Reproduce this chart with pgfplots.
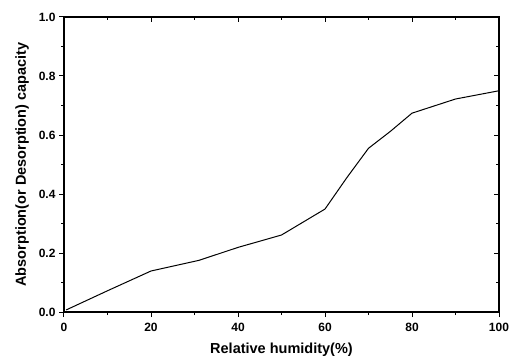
\documentclass[border=0pt]{standalone}
\usepackage{fontspec}
\setmainfont{Liberation Sans}
\usepackage{pgfplots}
\pgfplotsset{compat=1.18}
\begin{document}
\begin{tikzpicture}
\pgfplotsset{
  common/.style={
    at={(0,0)}, anchor=south west, scale only axis,
    width=435pt, height=295pt,
    xmin=0, xmax=100, ymin=0, ymax=1,
    xtick={0,20,...,100}, ytick={0,0.2,...,1.0},
    minor x tick num=1, minor y tick num=1,
    axis line style={line width=1.5pt},
    major tick length=5pt, minor tick length=3pt,
    every tick/.style={black, line width=1pt},
    /pgf/number format/assume math mode=true,
  }
}
\begin{axis}[common,
    xtick pos=bottom, ytick pos=left, tick align=outside,
    ticklabel style={font=\fontsize{12}{14}\selectfont\bfseries},
    xticklabel style={yshift=-3pt},
    yticklabel style={/pgf/number format/.cd, fixed, fixed zerofill, precision=1},
    xlabel={Relative humidity(\%)},
    ylabel={Absorption(or Desorption) capacity},
    label style={font=\fontsize{14.5}{16}\selectfont\bfseries},
    xlabel style={yshift=-4pt},
    ylabel style={yshift=3pt},
]
\addplot[black, line width=1pt] coordinates {
(0.5,0.007) (10,0.072) (20,0.139) (31,0.175) (40,0.219) (50,0.261) (60,0.349)
(65,0.455) (70,0.555) (75,0.612) (80,0.674) (90,0.722) (100,0.750)
};
\end{axis}
\begin{axis}[common,
    xtick pos=top, ytick pos=right, tick align=inside,
    xticklabels={}, yticklabels={},
]
\end{axis}
\pgfresetboundingbox
\path[use as bounding box] (-64pt,-47pt) rectangle (446pt,312pt);
\end{tikzpicture}
\end{document}
